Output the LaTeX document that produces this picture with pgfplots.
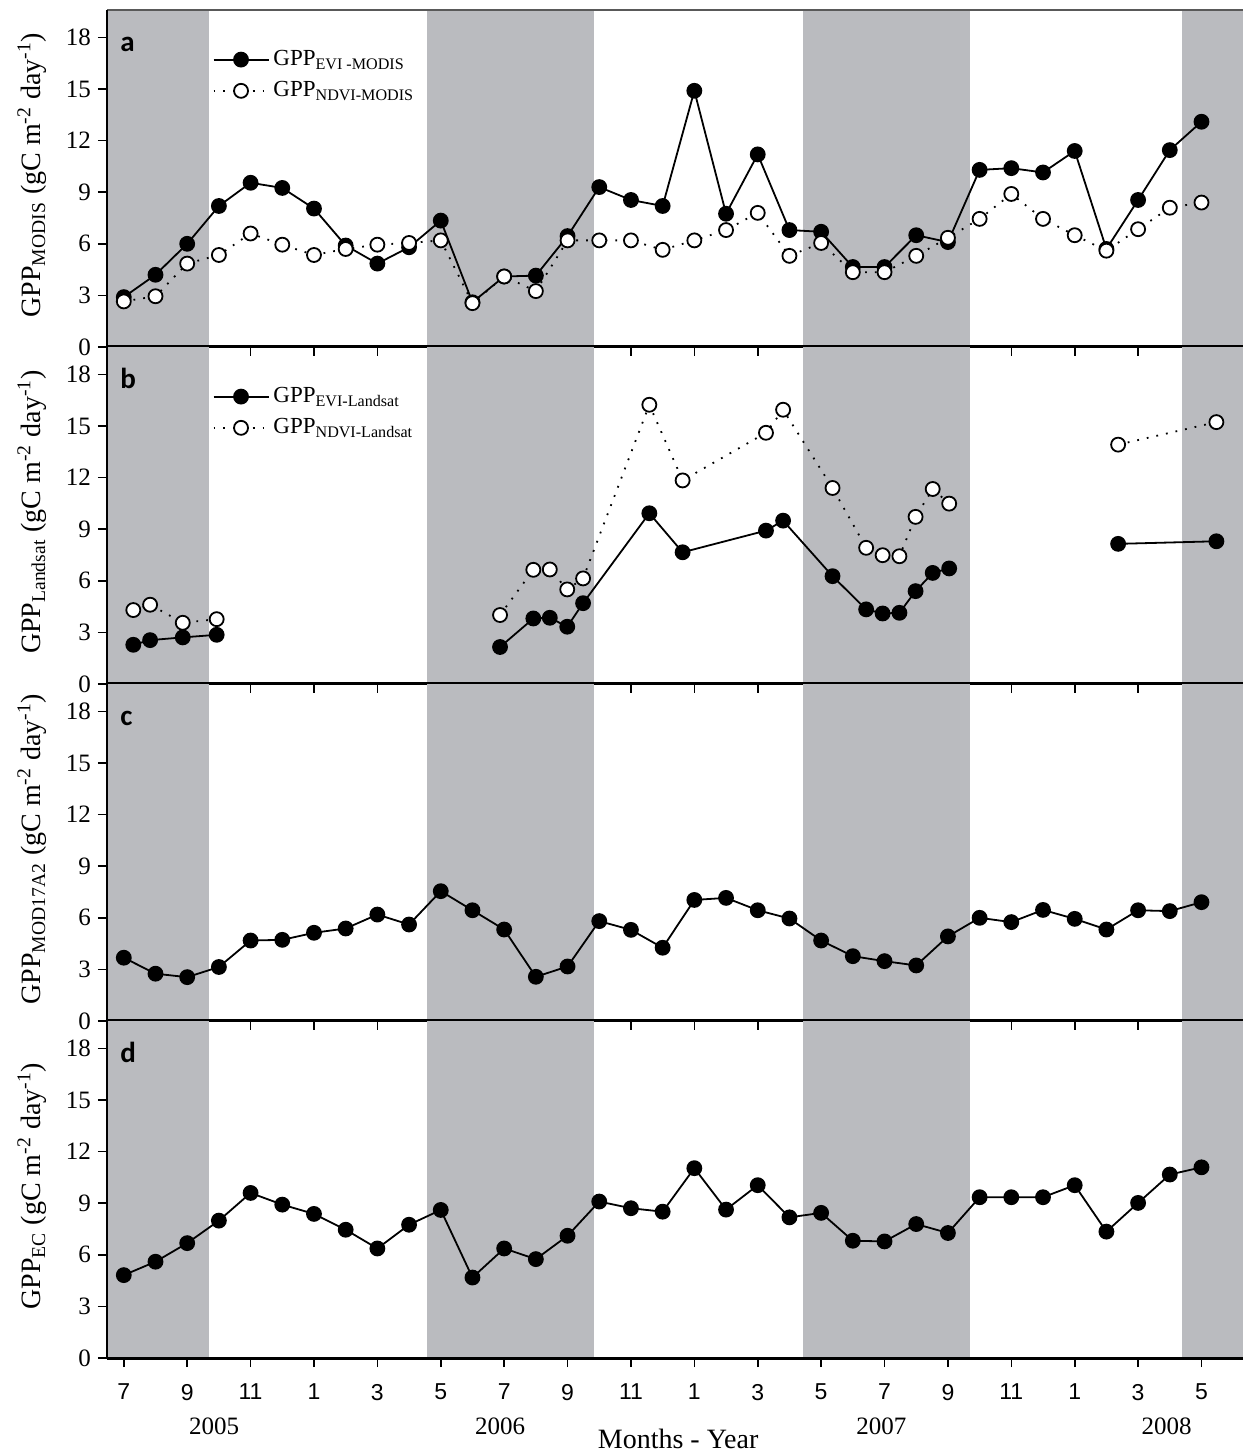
\documentclass[border=0pt]{standalone}
\usepackage{fontspec}
\setmainfont{Liberation Serif}
\newfontfamily\sansf{Liberation Sans}
\newfontfamily\letf{Carlito}
\usepackage{pgfplots}
\pgfplotsset{compat=1.18}
\definecolor{shadegray}{RGB}{186,187,191}

\pgfplotsset{
 legend image code/.code={\draw[mark repeat=2,mark phase=2,#1] plot coordinates {(0pt,0pt)(13.75pt,0pt)(27.5pt,0pt)};},
 panel/.style={
  scale only axis, width=568pt, height=168.5pt,
  xmin=-0.53, xmax=35.31, ymin=0, ymax=19.6,
  clip=false,
  axis line style={draw=none},
  xtick={0,2,...,34}, xticklabels={},
  ytick={0,3,...,18},
  xtick pos=bottom, ytick pos=left,
  tick align=outside,
  major tick length=4.5pt,
  tick style={black, line width=0.8pt},
  /pgf/number format/assume math mode=true,
  yticklabel style={font=\fontsize{12.5}{14}\selectfont},
  every axis y label/.style={at={(axis description cs:-0.066,0.51)}, rotate=90, anchor=center, font=\fontsize{14}{16}\selectfont},
  legend cell align=left,
  legend style={draw=none, fill=none, at={(axis cs:2.79,17.5)}, anchor=north west, font=\fontsize{11.5}{13}\selectfont, row sep=2.5pt, inner sep=0pt},
 },
 evi/.style={black, line width=0.9pt, mark=*, mark size=3.5pt, mark options={solid, fill=black}},
 ndvi/.style={black, line width=0.9pt, dash pattern=on 0.9pt off 4pt, mark=*, mark size=3.5pt, mark options={solid, fill=white, line width=0.9pt}},
}
\newcommand\shading{%
 \fill[shadegray] (axis cs:-0.53,0) rectangle (axis cs:2.69,19.6);
 \fill[shadegray] (axis cs:9.55,0) rectangle (axis cs:14.83,19.6);
 \fill[shadegray] (axis cs:21.43,0) rectangle (axis cs:26.70,19.6);
 \fill[shadegray] (axis cs:33.40,0) rectangle (axis cs:35.31,19.6);
}
\newcommand\axframe{%
 \draw[black, line width=1.5pt] (axis cs:-0.53,0) -- (axis cs:35.31,0);
 \draw[black, line width=0.8pt] (axis cs:-0.53,0) -- (axis cs:-0.53,19.6);
}
\newcommand\letter[1]{\node[anchor=base west, inner sep=0pt, font=\letf\bfseries\fontsize{14.5}{16}\selectfont] at (axis cs:-0.12,17.2) {#1};}

\pgfplotstableread{
m evi ndvi
0 2.9 2.65
1 4.2 2.95
2 6.0 4.85
3 8.2 5.35
4 9.55 6.6
5 9.25 5.95
6 8.05 5.35
7 5.9 5.7
8 4.85 5.95
9 5.8 6.05
10 7.35 6.2
11 2.6 2.55
12 4.1 4.1
13 4.15 3.25
14 6.45 6.2
15 9.3 6.2
16 8.55 6.2
17 8.2 5.65
18 14.9 6.2
19 7.75 6.8
20 11.2 7.8
21 6.8 5.3
22 6.7 6.05
23 4.65 4.35
24 4.65 4.35
25 6.5 5.3
26 6.1 6.35
27 10.3 7.45
28 10.4 8.9
29 10.15 7.45
30 11.4 6.5
31 5.7 5.6
32 8.55 6.85
33 11.45 8.1
34 13.1 8.4
}\modis

\pgfplotstableread{
m evi ndvi
0.30 2.28 4.30
0.83 2.55 4.61
1.86 2.71 3.56
2.93 2.86 3.77
nan nan nan
11.87 2.15 4.01
12.92 3.81 6.64
13.44 3.85 6.66
13.99 3.33 5.50
14.49 4.70 6.14
16.58 9.93 16.24
17.63 7.66 11.84
20.26 8.92 14.61
20.80 9.50 15.95
22.36 6.27 11.40
23.42 4.34 7.92
23.94 4.10 7.49
24.47 4.14 7.43
24.98 5.40 9.72
25.52 6.46 11.34
26.04 6.72 10.49
nan nan nan
31.37 8.15 13.92
34.47 8.30 15.23
}\landsat

\pgfplotstableread{
m v
0 3.68
1 2.75
2 2.55
3 3.14
4 4.68
5 4.72
6 5.13
7 5.38
8 6.19
9 5.61
10 7.55
11 6.44
12 5.32
13 2.57
14 3.17
15 5.81
16 5.30
17 4.26
18 7.04
19 7.16
20 6.44
21 5.96
22 4.68
23 3.77
24 3.48
25 3.23
26 4.92
27 6.00
28 5.75
29 6.46
30 5.94
31 5.32
32 6.44
33 6.39
34 6.91
}\modseventeen

\pgfplotstableread{
m v
0 4.82
1 5.60
2 6.68
3 7.99
4 9.60
5 8.92
6 8.38
7 7.46
8 6.37
9 7.75
10 8.61
11 4.68
12 6.37
13 5.75
14 7.11
15 9.10
16 8.71
17 8.51
18 11.04
19 8.63
20 10.05
21 8.18
22 8.44
23 6.82
24 6.78
25 7.79
26 7.27
27 9.35
28 9.35
29 9.35
30 10.05
31 7.35
32 9.02
33 10.67
34 11.09
}\ec

\begin{document}
\begin{tikzpicture}
% panel a
\begin{axis}[panel, at={(0pt,505.5pt)},
  ylabel={GPP\textsubscript{MODIS} (gC m\textsuperscript{-2} day\textsuperscript{-1})}]
\shading
\draw[gray!70!black, line width=0.8pt] (axis cs:-0.53,19.6) -- (axis cs:35.31,19.6);
\addplot[evi] table[x=m, y=evi] {\modis};
\addlegendentry{GPP\textsubscript{EVI -MODIS}}
\addplot[ndvi] table[x=m, y=ndvi] {\modis};
\addlegendentry{GPP\textsubscript{NDVI-MODIS}}
\axframe
\letter{a}
\end{axis}
% panel b
\begin{axis}[panel, at={(0pt,337pt)},
  ylabel={GPP\textsubscript{Landsat} (gC m\textsuperscript{-2} day\textsuperscript{-1})}]
\shading
\addplot[evi, unbounded coords=jump] table[x=m, y=evi] {\landsat};
\addlegendentry{GPP\textsubscript{EVI-Landsat}}
\addplot[ndvi, unbounded coords=jump] table[x=m, y=ndvi] {\landsat};
\addlegendentry{GPP\textsubscript{NDVI-Landsat}}
\axframe
\letter{b}
\end{axis}
% panel c
\begin{axis}[panel, at={(0pt,168.5pt)},
  ylabel={GPP\textsubscript{MOD17A2} (gC m\textsuperscript{-2} day\textsuperscript{-1})}]
\shading
\addplot[evi] table[x=m, y=v] {\modseventeen};
\axframe
\letter{c}
\end{axis}
% panel d
\begin{axis}[panel, at={(0pt,0pt)},
  xticklabels={7,9,11,1,3,5,7,9,11,1,3,5,7,9,11,1,3,5},
  xticklabel style={font=\sansf\fontsize{11.5}{13}\selectfont, yshift=-5pt},
  ylabel={GPP\textsubscript{EC} (gC m\textsuperscript{-2} day\textsuperscript{-1})}]
\shading
\addplot[evi] table[x=m, y=v] {\ec};
\axframe
\letter{d}
\node[anchor=base, font=\fontsize{12.5}{14}\selectfont] at (axis cs:2.85,0) [yshift=-38pt] {2005};
\node[anchor=base, font=\fontsize{12.5}{14}\selectfont] at (axis cs:11.87,0) [yshift=-38pt] {2006};
\node[anchor=base, font=\fontsize{12.5}{14}\selectfont] at (axis cs:23.9,0) [yshift=-38pt] {2007};
\node[anchor=base, font=\fontsize{12.5}{14}\selectfont] at (axis cs:32.9,0) [yshift=-38pt] {2008};
\node[anchor=base, font=\fontsize{14}{16}\selectfont] at (axis cs:17.49,0) [yshift=-45pt] {Months - Year};
\end{axis}
\pgfresetboundingbox
\path[use as bounding box] (-53.5pt,-48pt) rectangle (568pt,679pt);
\end{tikzpicture}
\end{document}
